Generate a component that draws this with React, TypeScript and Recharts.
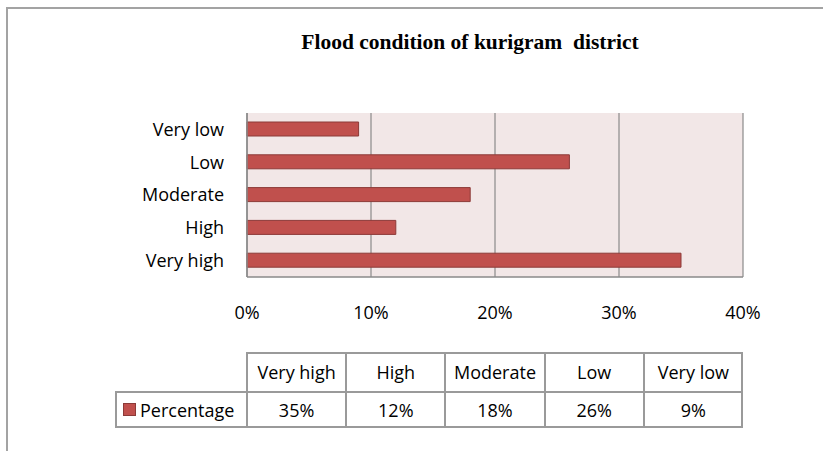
import React from 'react';
import { BarChart, Bar, XAxis, YAxis, CartesianGrid } from 'recharts';

const title = 'Flood condition of kurigram  district';
const categories = ['Very high', 'High', 'Moderate', 'Low', 'Very low'];
const percentages = [35, 12, 18, 26, 9];
const xTicks = [0, 10, 20, 30, 40];
const seriesName = 'Percentage';

const data = categories.map((c, i) => ({ category: c, value: percentages[i] }));

const W = 823;
const H = 451;
const PLOT_LEFT = 247;
const PLOT_RIGHT = 743;
const PLOT_TOP = 113;
const PLOT_BOTTOM = 277;
const X_AXIS_H = 40;

const FONT = '"Open Sans", sans-serif';
const FS = 18;
const BAR_FILL = '#c0504d';
const BAR_STROKE = '#8c3a38';
const GRID = '#8a8a8a';
const TABLE_LINE = '#9a9a9a';

const YTick = (props: any) => {
  const { x, y, payload } = props;
  return (
    <text x={x} y={y} dy="0.35em" textAnchor="end" fontFamily={FONT} fontSize={FS} fill="#000">
      {payload.value}
    </text>
  );
};

const XTick = (props: any) => {
  const { x, y, payload } = props;
  return (
    <text x={x} y={y} dy="0.71em" textAnchor="middle" fontFamily={FONT} fontSize={FS} fill="#000">
      {payload.value + '%'}
    </text>
  );
};

export default function App() {
  const colW = (PLOT_RIGHT - PLOT_LEFT) / categories.length;
  const row1Top = 352;
  const row2Top = 391;
  const row2Bottom = 428;
  const legendLeft = 115;
  const cellText: React.CSSProperties = {
    position: 'absolute',
    fontFamily: FONT,
    fontSize: FS,
    color: '#000',
    display: 'flex',
    alignItems: 'center',
    justifyContent: 'center',
    boxSizing: 'border-box',
    whiteSpace: 'pre',
    lineHeight: 1,
  };
  return (
    <div style={{ position: 'absolute', left: 0, top: 0, width: W, height: H, background: '#fff', overflow: 'hidden' }}>
      <div
        style={{
          position: 'absolute',
          left: 6,
          top: 7,
          width: W,
          height: H,
          borderTop: '2px solid #a3a3a3',
          borderLeft: '2px solid #a3a3a3',
        }}
      />
      <div style={{ position: 'absolute', left: 0, top: 0 }}>
        <BarChart
          width={W}
          height={H}
          data={data}
          layout="vertical"
          margin={{ top: PLOT_TOP, right: W - PLOT_RIGHT, left: 0, bottom: H - PLOT_BOTTOM - X_AXIS_H }}
        >
          <CartesianGrid horizontal={false} vertical={true} stroke={GRID} strokeWidth={1.2} fill="#f2e7e7" />
          <XAxis
            type="number"
            domain={[0, 40]}
            ticks={xTicks}
            height={X_AXIS_H}
            tickLine={false}
            axisLine={{ stroke: GRID, strokeWidth: 1.5 }}
            tickMargin={23}
            tick={<XTick />}
            interval={0}
          />
          <YAxis
            type="category"
            dataKey="category"
            reversed={true}
            width={PLOT_LEFT}
            tickLine={false}
            axisLine={{ stroke: GRID, strokeWidth: 1.5 }}
            tickMargin={17}
            tick={<YTick />}
            interval={0}
          />
          <Bar dataKey="value" fill={BAR_FILL} stroke={BAR_STROKE} strokeWidth={1} barSize={14} isAnimationActive={false} />
          <text
            x={470}
            y={49}
            textAnchor="middle"
            fontFamily='"Liberation Serif", "Times New Roman", serif'
            fontWeight="bold"
            fontSize={21.5}
            style={{ whiteSpace: 'pre' }}
            fill="#000"
          >
            {title}
          </text>
        </BarChart>
      </div>
      {/* data table */}
      <div
        style={{
          position: 'absolute',
          left: PLOT_LEFT,
          top: row1Top,
          width: PLOT_RIGHT - PLOT_LEFT,
          height: row2Bottom - row1Top,
          borderTop: `2px solid ${TABLE_LINE}`,
          borderBottom: `2px solid ${TABLE_LINE}`,
          borderRight: `2px solid ${TABLE_LINE}`,
          boxSizing: 'border-box',
        }}
      />
      <div
        style={{
          position: 'absolute',
          left: legendLeft,
          top: row2Top,
          width: PLOT_RIGHT - legendLeft,
          height: 0,
          borderTop: `2px solid ${TABLE_LINE}`,
        }}
      />
      <div
        style={{
          position: 'absolute',
          left: legendLeft,
          top: row2Top,
          width: PLOT_LEFT - legendLeft,
          height: row2Bottom - row2Top,
          borderLeft: `2px solid ${TABLE_LINE}`,
          borderBottom: `2px solid ${TABLE_LINE}`,
          boxSizing: 'border-box',
        }}
      />
      {categories.map((c, i) => (
        <div
          key={'v' + i}
          style={{
            position: 'absolute',
            left: PLOT_LEFT + colW * i - 1,
            top: row1Top,
            width: 0,
            height: row2Bottom - row1Top,
            borderLeft: `2px solid ${TABLE_LINE}`,
          }}
        />
      ))}
      {categories.map((c, i) => (
        <div
          key={'h' + i}
          style={{ ...cellText, left: PLOT_LEFT + colW * i, top: row1Top, width: colW, height: row2Top - row1Top }}
        >
          {c}
        </div>
      ))}
      {percentages.map((p, i) => (
        <div
          key={'p' + i}
          style={{ ...cellText, left: PLOT_LEFT + colW * i, top: row2Top, width: colW, height: row2Bottom - row2Top }}
        >
          {p + '%'}
        </div>
      ))}
      <div
        style={{
          ...cellText,
          left: legendLeft + 8,
          top: row2Top,
          width: PLOT_LEFT - legendLeft - 8,
          height: row2Bottom - row2Top,
          justifyContent: 'flex-start',
        }}
      >
        <span
          style={{
            display: 'inline-block',
            width: 11,
            height: 11,
            background: BAR_FILL,
            border: `1px solid ${BAR_STROKE}`,
            marginRight: 4,
          }}
        />
        {seriesName}
      </div>
    </div>
  );
}
